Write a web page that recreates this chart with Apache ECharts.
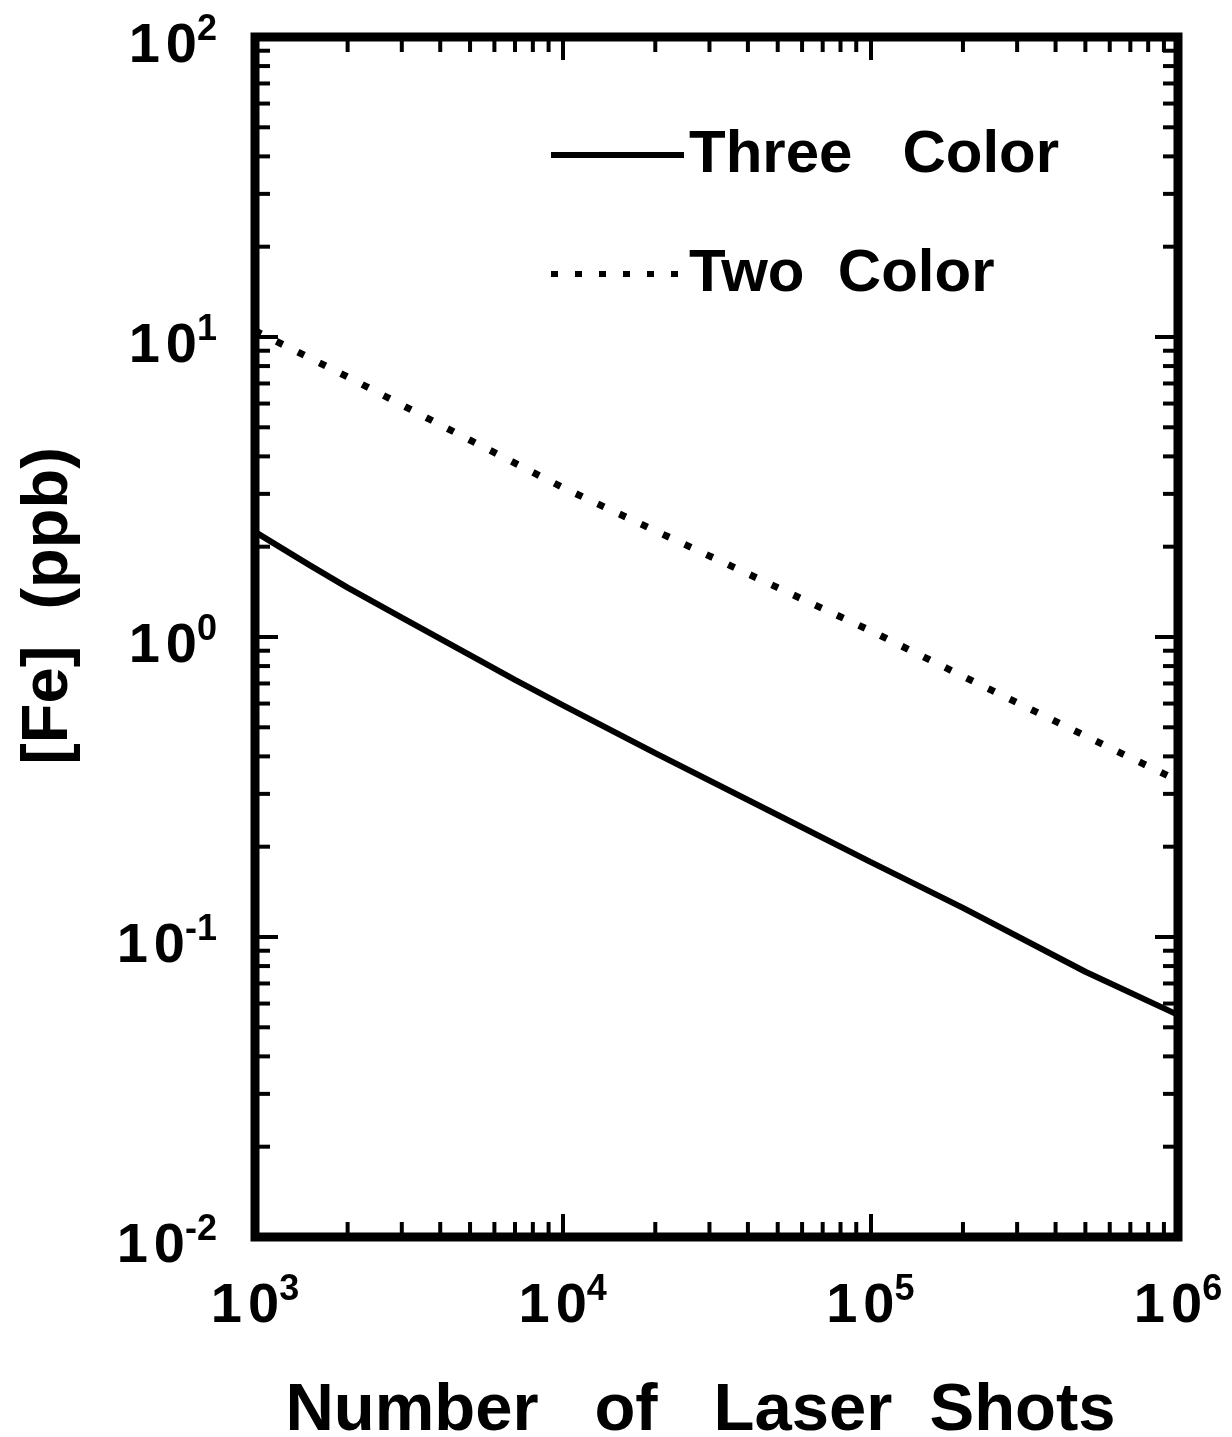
<!DOCTYPE html>
<html>
<head>
<meta charset="utf-8">
<script src="https://cdn.jsdelivr.net/npm/echarts@6/dist/echarts.min.js"></script>
<style>
  html, body { margin: 0; padding: 0; background: #fff; }
  #chart { width: 1232px; height: 1437px; }
</style>
</head>
<body>
<div id="chart"></div>
<script>
// ---- data ----
const shots = [1000, 1500, 2000, 3000, 5000, 7000, 10000, 20000, 50000, 100000, 200000, 500000, 1000000];
const threeColor = [2.24, 1.74, 1.46, 1.16, 0.87, 0.72, 0.593, 0.41, 0.255, 0.178, 0.125, 0.0766, 0.055];
const twoShots = [1000, 2000, 5000, 10000, 20000, 50000, 100000, 200000, 500000, 1000000];
const twoColor = [10.5, 7.36, 4.53, 3.15, 2.26, 1.46, 1.05, 0.74, 0.468, 0.332];

const seriesNames = ['Three   Color', 'Two  Color'];
const xAxisName = 'Number   of   Laser  Shots';
const yAxisName = '[Fe]  (ppb)';

const xRange = [1000, 1000000];
const yRange = [0.01, 100];
const xDecades = [1000, 10000, 100000];
const yDecades = [0.01, 0.1, 1, 10];
const minorMantissas = [2, 3, 4, 5, 6, 7, 8, 9];

// ---- build ----
const FONT = '"Liberation Sans", Arial, Helvetica, sans-serif';
const zip = (xs, ys) => xs.map((x, i) => [x, ys[i]]);

// minor tick items: [x, y, side]  side: 0 bottom,1 top,2 left,3 right
const minorItems = [];
xDecades.forEach(d => minorMantissas.forEach(m => {
  minorItems.push([m * d, yRange[0], 0]);
  minorItems.push([m * d, yRange[1], 1]);
}));
yDecades.forEach(d => minorMantissas.forEach(m => {
  minorItems.push([xRange[0], m * d, 2]);
  minorItems.push([xRange[1], m * d, 3]);
}));

function powLabel(v) {
  const e = Math.round(Math.log10(v));
  return '{one|1}{zero|0}{sup|' + e + '}';
}
const richBase = {
  one: { fontSize: 56, fontWeight: 'bold', fontFamily: FONT, color: '#000', lineHeight: 70 },
  zero: { fontSize: 56, fontWeight: 'bold', fontFamily: FONT, color: '#000', lineHeight: 70, padding: [0, 0, 0, 6] },
  sup: { fontSize: 36, fontWeight: 'bold', fontFamily: FONT, color: '#000', lineHeight: 30, verticalAlign: 'top' }
};

const tickStyle = { show: true, inside: true, length: 23, lineStyle: { color: '#000', width: 4 } };

const chart = echarts.init(document.getElementById('chart'), null, { renderer: 'canvas' });
chart.setOption({
  backgroundColor: '#fff',
  animation: false,
  grid: {
    left: 255, right: 54, top: 37, bottom: 200,
    outerBoundsMode: 'none',
    containLabel: false,
    show: true, borderColor: '#000', borderWidth: 9, backgroundColor: 'transparent'
  },
  legend: {
    data: seriesNames,
    orient: 'vertical',
    left: 548, top: 125,
    padding: 0,
    itemWidth: 133, itemHeight: 14, itemGap: 59,
    selectedMode: false,
    itemStyle: { opacity: 0, borderWidth: 0 },
    lineStyle: { width: 6 },
    textStyle: { fontSize: 60, fontWeight: 'bold', fontFamily: FONT, color: '#000', lineHeight: 60 }
  },
  xAxis: [{
    type: 'log', logBase: 10, min: xRange[0], max: xRange[1], splitNumber: 3,
    position: 'bottom',
    name: xAxisName, nameLocation: 'middle', nameGap: 141,
    nameTextStyle: { fontSize: 67, fontWeight: 'bold', fontFamily: FONT, color: '#000', padding: [0, 32, 0, 0] },
    axisLine: { show: false },
    axisTick: tickStyle,
    splitLine: { show: false },
    minorTick: { show: false },
    axisLabel: { margin: 35, formatter: powLabel, rich: richBase }
  }, {
    type: 'log', logBase: 10, min: xRange[0], max: xRange[1], splitNumber: 3,
    position: 'top',
    axisLine: { show: false },
    axisTick: tickStyle,
    splitLine: { show: false },
    axisLabel: { show: false }
  }],
  yAxis: [{
    type: 'log', logBase: 10, min: yRange[0], max: yRange[1], splitNumber: 4,
    position: 'left',
    name: yAxisName, nameLocation: 'middle', nameGap: 173, nameRotate: 90,
    nameTextStyle: { fontSize: 65, fontWeight: 'bold', fontFamily: FONT, color: '#000', padding: [0, 0, 0, 62] },
    axisLine: { show: false },
    axisTick: tickStyle,
    splitLine: { show: false },
    axisLabel: { margin: 38, formatter: powLabel, rich: richBase, padding: [20, 0, 0, 0] }
  }, {
    type: 'log', logBase: 10, min: yRange[0], max: yRange[1], splitNumber: 4,
    position: 'right',
    axisLine: { show: false },
    axisTick: tickStyle,
    splitLine: { show: false },
    axisLabel: { show: false }
  }],
  series: [{
    name: seriesNames[0],
    type: 'line',
    xAxisIndex: 0, yAxisIndex: 0,
    data: zip(shots, threeColor),
    symbol: 'none', showSymbol: false,
    lineStyle: { color: '#000', width: 6, type: 'solid' },
    itemStyle: { color: '#000' },
    z: 5
  }, {
    name: seriesNames[1],
    type: 'line',
    xAxisIndex: 0, yAxisIndex: 0,
    data: zip(twoShots, twoColor),
    symbol: 'none', showSymbol: false,
    lineStyle: { color: '#000', width: 7, type: [7, 17], cap: 'butt' },
    itemStyle: { color: '#000' },
    z: 5
  }, {
    name: 'minorTicks',
    type: 'custom',
    xAxisIndex: 0, yAxisIndex: 0,
    silent: true,
    clip: false,
    data: minorItems,
    encode: { x: 0, y: 1 },
    renderItem: function (params, api) {
      const p = api.coord([api.value(0), api.value(1)]);
      const side = api.value(2);
      const L = 15;
      let dx = 0, dy = 0;
      if (side === 0) dy = -L; else if (side === 1) dy = L; else if (side === 2) dx = L; else dx = -L;
      return {
        type: 'line',
        shape: { x1: p[0], y1: p[1], x2: p[0] + dx, y2: p[1] + dy },
        style: { stroke: '#000', lineWidth: 4 }
      };
    },
    z: 4
  }]
});
</script>
</body>
</html>
